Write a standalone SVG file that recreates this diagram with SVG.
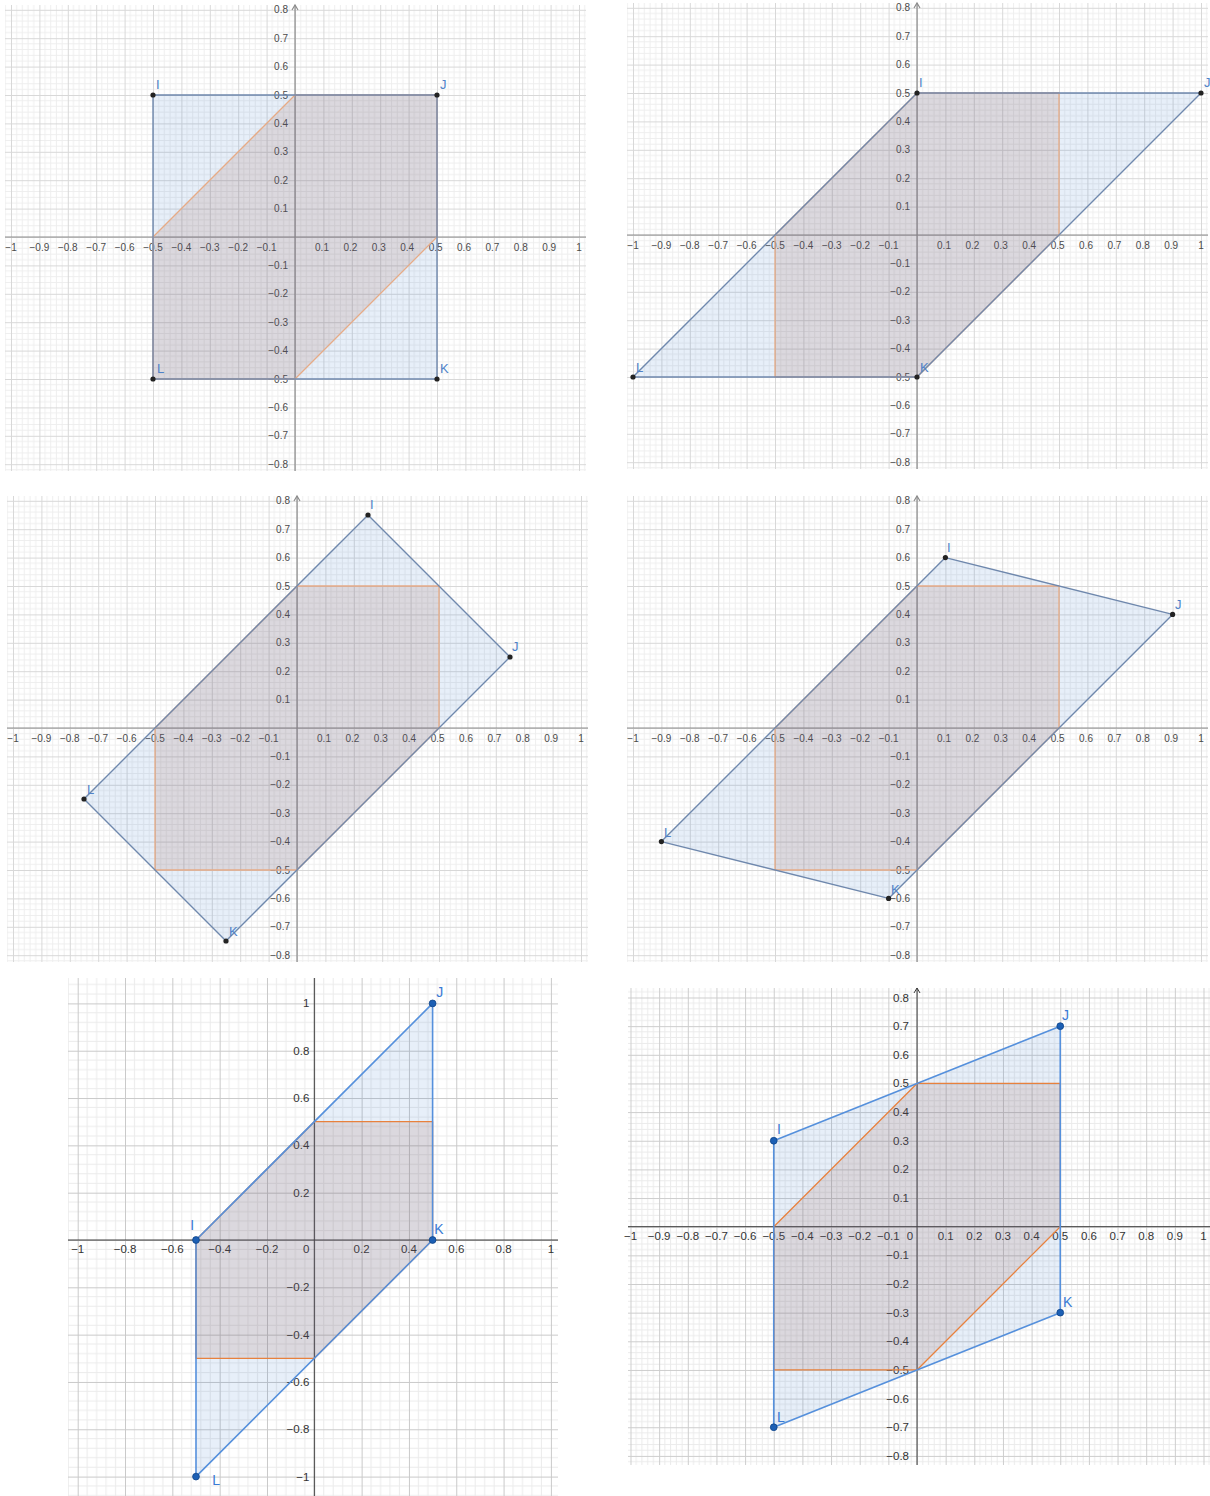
<svg xmlns="http://www.w3.org/2000/svg" xmlns:xlink="http://www.w3.org/1999/xlink" width="1210" height="1496" viewBox="0 0 1210 1496">
<style>
.tA{font-family:"Liberation Sans",Arial,sans-serif;font-size:10px;fill:#4a4a4a}
.tB{font-family:"Liberation Sans",Arial,sans-serif;font-size:11.5px;fill:#333}
.mx{text-anchor:middle}
.my{text-anchor:end}
.plA{font-family:"Liberation Sans",Arial,sans-serif;font-size:13px;fill:#4f82c8}
.plB{font-family:"Liberation Sans",Arial,sans-serif;font-size:14px;fill:#3a7bd5}
.bfill{fill:#1565c0;fill-opacity:0.1;stroke:none}
.hfill{fill:#9a5a40;fill-opacity:0.15;stroke:none}
.bA{fill:none;stroke:#6f88ad;stroke-width:1.4;stroke-linejoin:round}
.oA{fill:none;stroke:#e6ab86;stroke-width:1.3;stroke-linejoin:round}
.bB{fill:none;stroke:#5590dc;stroke-width:1.6;stroke-linejoin:round}
.oB{fill:none;stroke:#e8813d;stroke-width:1.3;stroke-linejoin:round}
.axA{stroke:#8c8c8c;stroke-width:1.2;fill:none}
.axB{stroke:#3a3a3a;stroke-width:1;fill:none}
.pA{fill:#222}
.pB{fill:#1c5fb4;stroke:#0f4488;stroke-width:0.8}
</style>
<defs>
<pattern id="gA" patternUnits="userSpaceOnUse" width="28.4" height="28.4">
<path d="M5.68 0V28.4M11.36 0V28.4M17.04 0V28.4M22.72 0V28.4M0 5.68H28.4M0 11.36H28.4M0 17.04H28.4M0 22.72H28.4" stroke="#eeeeee" stroke-width="1"/>
<path d="M0 0V28.4M0 0H28.4" stroke="#d8d8d8" stroke-width="2"/>
</pattern>
<pattern id="gB" patternUnits="userSpaceOnUse" width="47.32" height="47.32">
<path d="M9.464 0V47.32M18.928 0V47.32M28.392 0V47.32M37.856 0V47.32M0 9.464H47.32M0 18.928H47.32M0 28.392H47.32M0 37.856H47.32" stroke="#ebebeb" stroke-width="1"/>
<path d="M0 0V47.32M0 0H47.32" stroke="#c9c9c9" stroke-width="2"/>
</pattern>
<pattern id="gC" patternUnits="userSpaceOnUse" width="28.65" height="28.65">
<path d="M5.73 0V28.65M11.46 0V28.65M17.19 0V28.65M22.92 0V28.65M0 5.73H28.65M0 11.46H28.65M0 17.19H28.65M0 22.92H28.65" stroke="#ebebeb" stroke-width="1"/>
<path d="M0 0V28.65M0 0H28.65" stroke="#cdcdcd" stroke-width="2"/>
</pattern>
<g id="baseA">
<rect x="-290" y="-232" width="581" height="466" fill="#fff"/>
<rect x="-290" y="-232" width="581" height="466" fill="url(#gA)"/>
<line class="axA" x1="-290" y1="0" x2="291" y2="0"/>
<line class="axA" x1="0" y1="-232" x2="0" y2="234"/>
<polyline class="axA" points="-3,-227 0,-232 3,-227"/>
<g class="tA mx">
<text x="-284" y="14">−1</text><text x="-255.6" y="14">−0.9</text><text x="-227.2" y="14">−0.8</text><text x="-198.8" y="14">−0.7</text><text x="-170.4" y="14">−0.6</text><text x="-142" y="14">−0.5</text><text x="-113.6" y="14">−0.4</text><text x="-85.2" y="14">−0.3</text><text x="-56.8" y="14">−0.2</text><text x="-28.4" y="14">−0.1</text>
<text x="27" y="14">0.1</text><text x="55.4" y="14">0.2</text><text x="83.8" y="14">0.3</text><text x="112.2" y="14">0.4</text><text x="140.6" y="14">0.5</text><text x="169" y="14">0.6</text><text x="197.4" y="14">0.7</text><text x="225.8" y="14">0.8</text><text x="254.2" y="14">0.9</text><text x="284" y="14">1</text>
</g>
<g class="tA my">
<text x="-7" y="-223.7">0.8</text><text x="-7" y="-195.3">0.7</text><text x="-7" y="-166.9">0.6</text><text x="-7" y="-138.5">0.5</text><text x="-7" y="-110.1">0.4</text><text x="-7" y="-81.7">0.3</text><text x="-7" y="-53.3">0.2</text><text x="-7" y="-24.9">0.1</text>
<text x="-7" y="31.9">−0.1</text><text x="-7" y="60.3">−0.2</text><text x="-7" y="88.7">−0.3</text><text x="-7" y="117.1">−0.4</text><text x="-7" y="145.5">−0.5</text><text x="-7" y="173.9">−0.6</text><text x="-7" y="202.3">−0.7</text><text x="-7" y="230.7">−0.8</text>
</g>
</g>
<polygon id="hexA" points="-142,142 -142,0 0,-142 142,-142 142,0 0,142"/>
</defs>

<rect width="1210" height="1496" fill="#fff"/>

<g id="panel1" transform="translate(295,237)">
<use xlink:href="#baseA" href="#baseA"/>
<polygon class="bfill" points="-142,-142 142,-142 142,142 -142,142"/>
<use class="hfill" xlink:href="#hexA" href="#hexA"/>
<use class="oA" xlink:href="#hexA" href="#hexA"/>
<polygon class="bA" points="-142,-142 142,-142 142,142 -142,142"/>
<circle class="pA" cx="-142" cy="-142" r="2.6"/><circle class="pA" cx="142" cy="-142" r="2.6"/><circle class="pA" cx="142" cy="142" r="2.6"/><circle class="pA" cx="-142" cy="142" r="2.6"/>
<text class="plA" x="-139" y="-148">I</text><text class="plA" x="145" y="-148">J</text><text class="plA" x="145" y="136">K</text><text class="plA" x="-138" y="136">L</text>
</g>

<g id="panel2" transform="translate(917,235)">
<use xlink:href="#baseA" href="#baseA"/>
<polygon class="bfill" points="0,-142 284,-142 0,142 -284,142"/>
<use class="hfill" xlink:href="#hexA" href="#hexA"/>
<use class="oA" xlink:href="#hexA" href="#hexA"/>
<polygon class="bA" points="0,-142 284,-142 0,142 -284,142"/>
<circle class="pA" cx="0" cy="-142" r="2.6"/><circle class="pA" cx="284" cy="-142" r="2.6"/><circle class="pA" cx="0" cy="142" r="2.6"/><circle class="pA" cx="-284" cy="142" r="2.6"/>
<text class="plA" x="2" y="-148">I</text><text class="plA" x="287" y="-148">J</text><text class="plA" x="3" y="137">K</text><text class="plA" x="-281" y="137">L</text>
</g>

<g id="panel3" transform="translate(297,728)">
<use xlink:href="#baseA" href="#baseA"/>
<polygon class="bfill" points="71,-213 213,-71 -71,213 -213,71"/>
<use class="hfill" xlink:href="#hexA" href="#hexA"/>
<use class="oA" xlink:href="#hexA" href="#hexA"/>
<polygon class="bA" points="71,-213 213,-71 -71,213 -213,71"/>
<circle class="pA" cx="71" cy="-213" r="2.6"/><circle class="pA" cx="213" cy="-71" r="2.6"/><circle class="pA" cx="-71" cy="213" r="2.6"/><circle class="pA" cx="-213" cy="71" r="2.6"/>
<text class="plA" x="73" y="-219">I</text><text class="plA" x="215" y="-77">J</text><text class="plA" x="-68" y="208">K</text><text class="plA" x="-210" y="66">L</text>
</g>

<g id="panel4" transform="translate(917,728)">
<use xlink:href="#baseA" href="#baseA"/>
<polygon class="bfill" points="28.4,-170.4 255.6,-113.6 -28.4,170.4 -255.6,113.6"/>
<use class="hfill" xlink:href="#hexA" href="#hexA"/>
<use class="oA" xlink:href="#hexA" href="#hexA"/>
<polygon class="bA" points="28.4,-170.4 255.6,-113.6 -28.4,170.4 -255.6,113.6"/>
<circle class="pA" cx="28.4" cy="-170.4" r="2.6"/><circle class="pA" cx="255.6" cy="-113.6" r="2.6"/><circle class="pA" cx="-28.4" cy="170.4" r="2.6"/><circle class="pA" cx="-255.6" cy="113.6" r="2.6"/>
<text class="plA" x="30" y="-176">I</text><text class="plA" x="258" y="-119">J</text><text class="plA" x="-26" y="166">K</text><text class="plA" x="-253" y="109">L</text>
</g>

<g id="panel5" transform="translate(314.3,1240)">
<rect x="-246.3" y="-262" width="490" height="518" fill="url(#gB)"/>
<line class="axB" x1="-246.3" y1="0" x2="243.7" y2="0"/>
<line class="axB" x1="0" y1="-262" x2="0" y2="256"/>
<g class="tB mx">
<text x="-236.6" y="13">−1</text><text x="-189.3" y="13">−0.8</text><text x="-142" y="13">−0.6</text><text x="-94.6" y="13">−0.4</text><text x="-47.3" y="13">−0.2</text><text x="-8" y="13">0</text>
<text x="47.3" y="13">0.2</text><text x="94.6" y="13">0.4</text><text x="142" y="13">0.6</text><text x="189.3" y="13">0.8</text><text x="236.6" y="13">1</text>
</g>
<g class="tB my">
<text x="-5" y="-232.6">1</text><text x="-5" y="-185.3">0.8</text><text x="-5" y="-138">0.6</text><text x="-5" y="-90.6">0.4</text><text x="-5" y="-43.3">0.2</text>
<text x="-5" y="51.3">−0.2</text><text x="-5" y="98.6">−0.4</text><text x="-5" y="146">−0.6</text><text x="-5" y="193.3">−0.8</text><text x="-5" y="240.6">−1</text>
</g>
<polygon class="bfill" points="-118.3,0 118.3,-236.6 118.3,0 -118.3,236.6"/>
<polygon class="hfill" points="-118.3,118.3 -118.3,0 0,-118.3 118.3,-118.3 118.3,0 0,118.3"/>
<polygon class="oB" points="-118.3,118.3 -118.3,0 0,-118.3 118.3,-118.3 118.3,0 0,118.3"/>
<polygon class="bB" points="-118.3,0 118.3,-236.6 118.3,0 -118.3,236.6"/>
<circle class="pB" cx="-118.3" cy="0" r="3.4"/><circle class="pB" cx="118.3" cy="-236.6" r="3.4"/><circle class="pB" cx="118.3" cy="0" r="3.4"/><circle class="pB" cx="-118.3" cy="236.6" r="3.4"/>
<text class="plB" x="-124" y="-10">I</text><text class="plB" x="122" y="-243">J</text><text class="plB" x="120" y="-6">K</text><text class="plB" x="-102" y="245">L</text>
</g>

<g id="panel6" transform="translate(917,1226.7)">
<rect x="-289" y="-238.7" width="582" height="477" fill="url(#gC)"/>
<line class="axB" x1="-289" y1="0" x2="293" y2="0"/>
<line class="axB" x1="0" y1="-238.7" x2="0" y2="238.3"/>
<polyline class="axB" points="-3,-233.7 0,-238.7 3,-233.7"/>
<g class="tB mx">
<text x="-286.5" y="13">−1</text><text x="-257.85" y="13">−0.9</text><text x="-229.2" y="13">−0.8</text><text x="-200.55" y="13">−0.7</text><text x="-171.9" y="13">−0.6</text><text x="-143.25" y="13">−0.5</text><text x="-114.6" y="13">−0.4</text><text x="-85.95" y="13">−0.3</text><text x="-57.3" y="13">−0.2</text><text x="-28.65" y="13">−0.1</text><text x="-7" y="13">0</text>
<text x="28.65" y="13">0.1</text><text x="57.3" y="13">0.2</text><text x="85.95" y="13">0.3</text><text x="114.6" y="13">0.4</text><text x="143.25" y="13">0.5</text><text x="171.9" y="13">0.6</text><text x="200.55" y="13">0.7</text><text x="229.2" y="13">0.8</text><text x="257.85" y="13">0.9</text><text x="286.5" y="13">1</text>
</g>
<g class="tB my">
<text x="-8" y="-225.2">0.8</text><text x="-8" y="-196.55">0.7</text><text x="-8" y="-167.9">0.6</text><text x="-8" y="-139.25">0.5</text><text x="-8" y="-110.6">0.4</text><text x="-8" y="-81.95">0.3</text><text x="-8" y="-53.3">0.2</text><text x="-8" y="-24.65">0.1</text>
<text x="-8" y="32.65">−0.1</text><text x="-8" y="61.3">−0.2</text><text x="-8" y="89.95">−0.3</text><text x="-8" y="118.6">−0.4</text><text x="-8" y="147.25">−0.5</text><text x="-8" y="175.9">−0.6</text><text x="-8" y="204.55">−0.7</text><text x="-8" y="233.2">−0.8</text>
</g>
<polygon class="bfill" points="-143.25,-85.95 143.25,-200.55 143.25,85.95 -143.25,200.55"/>
<polygon class="hfill" points="-143.25,143.25 -143.25,0 0,-143.25 143.25,-143.25 143.25,0 0,143.25"/>
<polygon class="oB" points="-143.25,143.25 -143.25,0 0,-143.25 143.25,-143.25 143.25,0 0,143.25"/>
<polygon class="bB" points="-143.25,-85.95 143.25,-200.55 143.25,85.95 -143.25,200.55"/>
<circle class="pB" cx="-143.25" cy="-85.95" r="3.4"/><circle class="pB" cx="143.25" cy="-200.55" r="3.4"/><circle class="pB" cx="143.25" cy="85.95" r="3.4"/><circle class="pB" cx="-143.25" cy="200.55" r="3.4"/>
<text class="plB" x="-140" y="-93">I</text><text class="plB" x="145" y="-207">J</text><text class="plB" x="146" y="80">K</text><text class="plB" x="-140" y="195">L</text>
</g>
</svg>
